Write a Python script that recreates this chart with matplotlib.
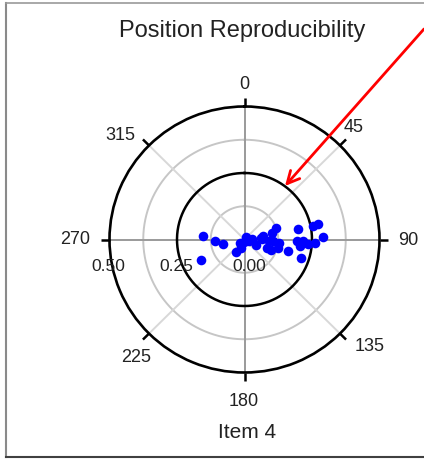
import numpy as np
import matplotlib
matplotlib.use('Agg')
import matplotlib.pyplot as plt
from matplotlib.lines import Line2D
from matplotlib.patches import FancyArrowPatch

plt.rcParams['font.family'] = ['Liberation Sans', 'DejaVu Sans']

# ---- data ----
title = "Position Reproducibility"
item_label = "Item 4"

theta_deg = [275, 268, 258, 244, 212, 203, 194, 20, 88, 117, 87, 79, 111, 76, 69,
             93, 105, 95, 105, 79, 92, 97, 91, 108, 94, 79, 78, 93, 88, 111, 94,
             84, 107, 235]
radius = [0.154, 0.109, 0.082, 0.179, 0.057, 0.034, 0.011, 0.011, 0.026, 0.047,
          0.064, 0.068, 0.088, 0.104, 0.125, 0.107, 0.130, 0.130, 0.166, 0.202,
          0.196, 0.208, 0.217, 0.221, 0.234, 0.257, 0.279, 0.261, 0.290, 0.105,
          0.092, 0.060, 0.017, 0.021]

angle_ticks = [0, 45, 90, 135, 180, 225, 270, 315]
angle_labels = ['0', '45', '90', '135', '180', '225', '270', '315']
r_ticks = [0.50, 0.25, 0.00]
r_labels = ['0.50', '0.25', '0.00']
r_max = 0.5
gray_rings = [0.125, 0.375]
black_rings = [0.25]

# ---- figure ----
W, H = 424, 459
fig = plt.figure(figsize=(W / 100, H / 100), dpi=100)
fig.patch.set_facecolor('white')

cx, cy, Rx, Ry = 244.5, 239.5, 135, 133
ax = fig.add_axes([(cx - Rx) / W, (H - cy - Ry) / H, 2 * Rx / W, 2 * Ry / H],
                  projection='polar')
ax.set_aspect('auto')
ax.set_theta_zero_location('N')
ax.set_theta_direction(-1)
ax.set_ylim(0, r_max)
ax.grid(False)
ax.set_xticks([])
ax.set_yticks([])
ax.spines['polar'].set_linewidth(1.9)
ax.spines['polar'].set_color('black')
ax.set_facecolor('white')

t = np.linspace(0, 2 * np.pi, 400)
for rr in gray_rings:
    ax.plot(t, np.full_like(t, rr), color='#c6c6c6', lw=1.4, zorder=1)
for rr in black_rings:
    ax.plot(t, np.full_like(t, rr), color='black', lw=1.8, zorder=2)

# label offsets (pixels) from the point where each spoke meets the outer ring
label_offsets = {0: (0, 22), 45: (14, 18), 90: (29, -1), 135: (30, -13),
                 180: (-1, -29), 225: (-13, -24), 270: (-34, 0), 315: (-29, 10)}

for a, lab in zip(angle_ticks, angle_labels):
    th = np.radians(a)
    col = '#9a9a9a' if a % 90 == 0 else '#d8d8d8'
    ax.plot([th, th], [0, r_max], color=col, lw=1.4, zorder=1)
    ax.plot([th, th], [r_max, r_max * 1.064], color='black', lw=1.8,
            clip_on=False, zorder=3, solid_capstyle='butt')
    ax.annotate(lab, xy=(th, r_max), xytext=label_offsets[a],
                textcoords='offset pixels', ha='center', va='center',
                fontsize=13, color='#222222', annotation_clip=False)

x_off = {'0.50': -1, '0.25': -1, '0.00': 5}
for rv, lab in zip(r_ticks, r_labels):
    ax.annotate(lab, xy=(np.radians(270), rv), xytext=(x_off[lab], -27),
                textcoords='offset pixels', ha='center', va='center',
                fontsize=12.5, color='#222222', annotation_clip=False)

ax.scatter(np.radians(theta_deg), radius, s=48, c='#0000ff', linewidths=0,
           zorder=5, clip_on=False)

fig.text(242 / W, 1 - 31 / H, title, ha='center', va='center', fontsize=17,
         color='#222222')
fig.text(247 / W, 1 - 432 / H, item_label, ha='center', va='center',
         fontsize=15, color='#222222')

# frame around the picture
fig.add_artist(Line2D([6 / W, 6 / W], [1 - 3 / H, 1 - 457 / H],
                      transform=fig.transFigure, color='#8a8a8a', lw=1.5))
fig.add_artist(Line2D([6 / W, 1.0], [1 - 3 / H, 1 - 3 / H],
                      transform=fig.transFigure, color='#9a9a9a', lw=1.2))
fig.add_artist(Line2D([6 / W, 1.0], [1 - 457 / H, 1 - 457 / H],
                      transform=fig.transFigure, color='#404040', lw=1.5))

# red arrow
arrow = FancyArrowPatch((1.0, 1 - 29 / H), (285 / W, 1 - 186 / H),
                        transform=fig.transFigure, arrowstyle='->',
                        mutation_scale=22, color='#ff0000', lw=2,
                        shrinkA=0, shrinkB=0, zorder=10)
fig.add_artist(arrow)

fig.savefig('out.png', dpi=100, facecolor='white')
